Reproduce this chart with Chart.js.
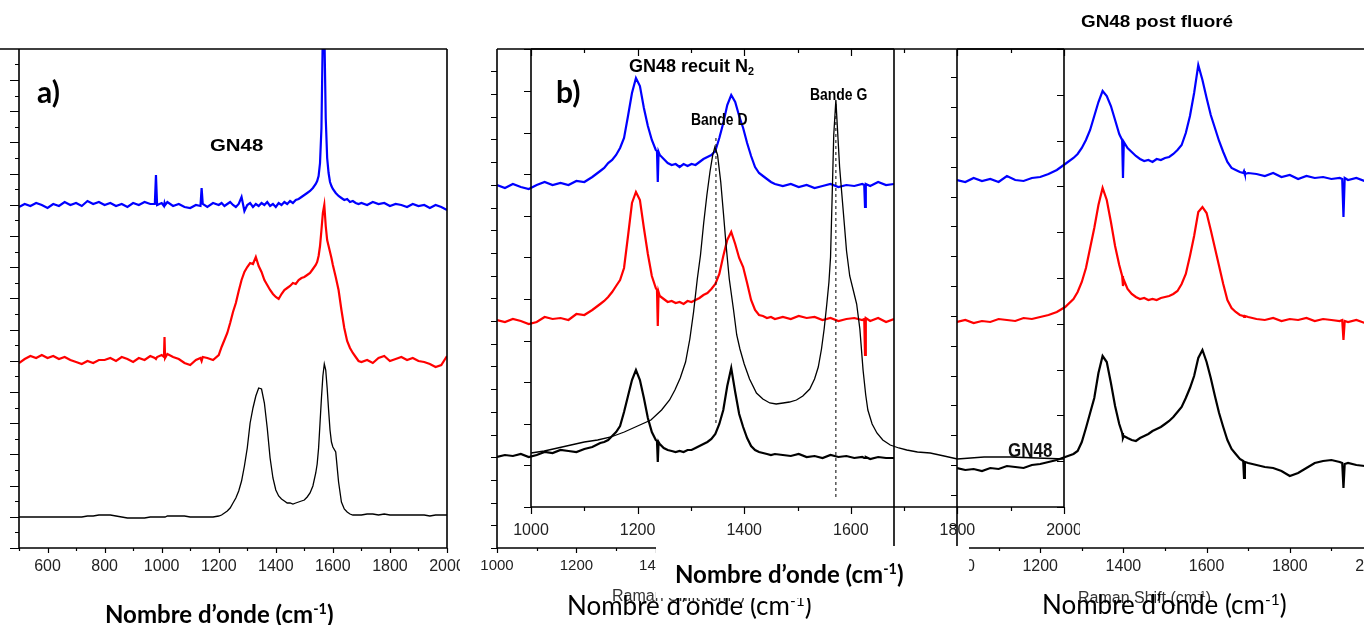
<!DOCTYPE html>
<html>
<head>
<meta charset="utf-8">
<script src="https://cdn.jsdelivr.net/npm/chart.js@4.4.1/dist/chart.umd.min.js"></script>
<style>
html, body { margin: 0; padding: 0; overflow: hidden; }
body { width: 1364px; height: 625px; position: relative; background: #fff; }
canvas { position: absolute; top: 0; }
.t { position: absolute; white-space: nowrap; line-height: 1; color: #000; }
.sup { font-size: 0.6em; vertical-align: 0.6em; }
.sub { font-size: 0.6em; vertical-align: -0.3em; }
</style>
</head>
<body>
<canvas id="chartA" width="460" height="625" style="left:0px"></canvas>
<canvas id="chartB1" width="440" height="625" style="left:470px"></canvas>
<canvas id="chartC" width="470" height="625" style="left:920px"></canvas>
<canvas id="chartB2" width="600" height="625" style="left:480px"></canvas>

<div class="t" style="left:37px;top:73px;font:700 30px Lato">a)</div>
<div class="t" style="left:210px;top:136px;font:700 17px 'Liberation Sans';transform:scaleX(1.2);transform-origin:left">GN48</div>
<div class="t" style="left:556px;top:73px;font:700 30px Lato">b)</div>
<div class="t" style="left:629px;top:56px;font:700 18px 'Liberation Sans'">GN48 recuit N<span class="sub">2</span></div>
<div class="t" style="left:691px;top:110px;font:700 17px 'Liberation Sans';transform:scaleX(0.82);transform-origin:left">Bande D</div>
<div class="t" style="left:810px;top:85px;font:700 17px 'Liberation Sans';transform:scaleX(0.82);transform-origin:left">Bande G</div>
<div class="t" style="left:1081px;top:13px;font:700 16px 'Liberation Sans';transform:scaleX(1.18);transform-origin:left">GN48 post fluoré</div>
<div class="t" style="left:1008px;top:439px;font:700 20px 'Liberation Sans';color:#111;transform:scaleX(0.85);transform-origin:left">GN48</div>

<div class="t" style="left:105px;top:599px;font:700 24px Lato">Nombre d’onde (cm<span class="sup">-1</span>)</div>
<div class="t" style="left:612px;top:586px;font:400 16px 'Liberation Sans';color:#333">Raman Shift (cm<span class="sup">-1</span>)</div>
<div class="t" style="left:567px;top:589px;font:400 26px Lato">Nombre d’onde (cm<span class="sup">-1</span>)</div>
<div class="t" style="left:656px;top:546px;width:313px;height:52px;background:#fff"></div>
<div class="t" style="left:675px;top:559px;font:700 24px Lato">Nombre d’onde (cm<span class="sup">-1</span>)</div>
<div class="t" style="left:1078px;top:588px;font:400 16px 'Liberation Sans';color:#333">Raman Shift (cm<span class="sup">-1</span>)</div>
<div class="t" style="left:1042px;top:588px;font:400 26px Lato">Nombre d’onde (cm<span class="sup">-1</span>)</div>

<script>
// panel a) : GN48, three spectra, shared wavenumber grid
const aWave = [500, 520, 540, 560, 580, 600, 620, 640, 660, 680, 700, 720, 740, 760, 780, 800, 820, 840, 860, 880, 900, 920, 940, 960,
	976, 980, 984, 1000, 1008, 1010, 1012, 1020, 1040, 1060, 1080, 1100, 1120, 1136, 1140, 1144, 1160, 1180, 1200,
	1210, 1220, 1230, 1240, 1250, 1260, 1270, 1280, 1290, 1300, 1310, 1320, 1330, 1340, 1350, 1360, 1370, 1380, 1390, 1400,
	1410, 1420, 1430, 1440, 1450, 1460, 1470, 1480, 1490, 1500, 1510, 1520, 1530, 1540,
	1545, 1550, 1555, 1560, 1565, 1570, 1575, 1580, 1585, 1590, 1595, 1600,
	1610, 1620, 1630, 1640, 1650, 1660, 1670, 1680, 1690, 1700,
	1720, 1740, 1760, 1780, 1800, 1820, 1840, 1860, 1880, 1900, 1920, 1940, 1960, 1980, 2000];
const aBlue = [341, 344, 342, 345, 343, 340, 344, 342, 346, 343, 345, 342, 347, 344, 346, 343, 345, 342, 344, 341, 345, 343, 346, 344,
	344, 373, 343, 345, 342, 345, 343, 346, 342, 344, 341, 340, 343, 342, 360, 344, 341, 345, 343,
	345, 342, 344, 346, 343, 341, 344, 351, 337, 343, 345, 341, 344, 342, 345, 343, 346, 342, 344, 341,
	345, 343, 346, 344, 347, 345, 348, 349, 351, 353, 355, 357, 360, 364,
	367, 372, 385, 420, 520, 520, 430, 390, 375, 366, 362, 359,
	355, 352, 350, 348, 349, 346, 347, 345, 344, 345,
	343, 346, 344, 345, 342, 344, 343, 341, 344, 342, 343, 340, 343, 341, 338];
const aRed = [185, 189, 192, 190, 193, 190, 192, 189, 191, 188, 186, 184, 187, 185, 188, 188, 190, 187, 191, 189, 186, 190, 188, 192,
	190, 189, 191, 193, 191, 211, 190, 194, 191, 189, 185, 183, 188, 190, 187, 191, 190, 188, 193,
	201, 208, 215, 225, 236, 245, 257, 268, 276, 281, 285, 284, 291, 282, 276, 268, 263, 258, 254, 251,
	249, 254, 258, 260, 262, 265, 264, 268, 270, 271, 273, 275, 279, 283,
	286, 292, 302, 318, 335, 343, 322, 308, 302, 296, 290, 283,
	271, 258, 238, 220, 207, 200, 195, 191, 187, 186,
	188, 185, 190, 192, 187, 189, 191, 188, 190, 187, 186, 184, 181, 183, 192];
const aBlack = [31, 31, 31, 31, 31, 31, 31, 31, 31, 31, 31, 31, 32, 32, 33, 33, 33, 32, 31, 30, 30, 30, 30, 31,
	31, 31, 31, 31, 31, 31, 31, 32, 32, 32, 32, 31, 31, 31, 31, 31, 31, 31, 32,
	33, 35, 37, 40, 45, 50, 57, 67, 82, 100, 125, 140, 152, 160, 159, 145, 120, 90, 70, 58,
	52, 49, 47, 45, 45, 44, 45, 46, 47, 48, 51, 55, 62, 75,
	84, 100, 125, 150, 172, 184, 178, 160, 138, 118, 106, 101,
	96, 66, 46, 39, 36, 34, 33, 33, 33, 33,
	34, 34, 33, 34, 33, 33, 33, 33, 33, 33, 33, 32, 33, 33, 33];
const aTickLabels = [600, 800, 1000, 1200, 1400, 1600, 1800, 2000];

// panel b) outer frame : GN48 recuit N2
const b1Wave = [1000, 1020, 1040, 1060, 1080, 1100, 1120, 1140, 1160, 1180, 1200, 1220, 1240,
	1250, 1260, 1270, 1280, 1290, 1300, 1310, 1320, 1330, 1340, 1350, 1360, 1370, 1380, 1390, 1400,
	1403, 1405, 1407, 1410, 1420, 1430, 1440, 1450,
	1460, 1470, 1480, 1490, 1500, 1510, 1520, 1530, 1540, 1550, 1560, 1570, 1580, 1590, 1600, 1610, 1620, 1630, 1640, 1650, 1660, 1670, 1680, 1690, 1700,
	1720, 1740, 1760, 1780, 1800, 1820, 1840, 1860, 1880, 1900, 1920, 1925, 1927, 1929, 1940, 1960, 1980, 2000];
const b1Blue = [363, 360, 364, 361, 359, 363, 366, 363, 365, 363, 367, 366, 371,
	374, 377, 380, 385, 388, 393, 400, 410, 432, 455, 470, 462, 440, 422, 408, 398,
	397, 366, 396, 393, 389, 385, 383, 384,
	381, 384, 382, 384, 383, 386, 389, 391, 393, 397, 410, 425, 443, 453, 446, 432, 420, 405, 392, 381, 375, 372, 369, 366, 364,
	362, 364, 361, 363, 360, 362, 364, 361, 363, 362, 364, 363, 341, 364, 362, 366, 363, 364];
const b1Red = [228, 226, 229, 227, 224, 226, 231, 229, 230, 228, 234, 233, 238,
	241, 244, 247, 251, 256, 262, 268, 280, 312, 345, 356, 348, 320, 294, 272, 260,
	258, 222, 256, 252, 249, 246, 247, 245,
	246, 244, 247, 246, 248, 250, 253, 255, 259, 264, 274, 292, 308, 316, 304, 290, 281, 265, 248, 238, 233, 232, 230, 231, 229,
	231, 229, 232, 230, 231, 228, 230, 227, 229, 230, 228, 229, 193, 230, 227, 230, 226, 229];
const b1Black = [91, 93, 92, 94, 91, 93, 96, 95, 98, 97, 96, 99, 101,
	103, 105, 106, 108, 112, 116, 122, 136, 152, 168, 178, 168, 150, 130, 116, 108,
	107, 86, 106, 104, 100, 98, 97, 96,
	97, 96, 98, 98, 100, 102, 104, 106, 109, 114, 124, 138, 162, 180, 156, 134, 121, 110, 102, 98, 96, 95, 94, 93, 94,
	93, 92, 94, 91, 92, 90, 93, 91, 92, 90, 91, 90, 90, 91, 89, 91, 90, 90];
const b1TickLabels = [1000, 1200, 1400, 1600, 1800, 2000];

// panel b) inner frame : GN48 with band positions
const b2Wave = [1000, 1025, 1050, 1075, 1100, 1125, 1150, 1175, 1200, 1225,
	1245, 1260, 1270, 1280, 1290, 1298, 1305, 1312, 1318, 1324,
	1330, 1336, 1341, 1345, 1350, 1356, 1361, 1366, 1372, 1380,
	1386, 1392, 1400, 1410, 1423, 1435, 1448, 1460, 1473, 1485,
	1498, 1510, 1523, 1532, 1539, 1545, 1550, 1555, 1559, 1562,
	1565, 1568, 1572, 1575, 1579, 1583, 1588, 1592, 1598, 1605,
	1611, 1617, 1623, 1628, 1632, 1640, 1649, 1660, 1674, 1690,
	1705, 1725, 1749, 1775, 1800, 1850, 1900, 1950, 2000];
const b2Black = [54, 56, 59, 62, 65, 67, 70, 75, 81, 87,
	97, 107, 117, 129, 145, 168, 195, 228, 252, 284,
	312, 336, 352, 360, 352, 325, 294, 262, 228, 197,
	172, 158, 143, 128, 114, 108, 104, 103, 104, 105,
	107, 111, 118, 128, 140, 158, 178, 203, 225, 250,
	310, 372, 407, 378, 340, 314, 282, 256, 231, 216,
	203, 178, 137, 112, 97, 83, 74, 67, 62, 59,
	57, 55, 54, 51, 48, 50, 50, 49, 48];
const bandD = [1347, 84, 370];   // position, dashed line from / to
const bandG = [1572, 10, 405];
const b2TickLabels = [1000, 1200, 1400, 1600, 1800, 2000];

// right panel : GN48 post fluoré
const cWave = [1000, 1020, 1040, 1060, 1080, 1100, 1120, 1140, 1160, 1180, 1200, 1220, 1240, 1260, 1280,
	1290, 1300, 1310, 1320, 1330, 1340, 1350, 1360, 1370, 1380, 1390, 1397, 1399, 1401,
	1410, 1420, 1430, 1440, 1450, 1460, 1470, 1480, 1490, 1500, 1510, 1520, 1530, 1540, 1550, 1560, 1570, 1580, 1590, 1600,
	1610, 1620, 1630, 1640, 1650, 1660, 1670, 1680, 1688, 1690, 1692, 1700,
	1720, 1740, 1760, 1780, 1800, 1820, 1840, 1860, 1880, 1900, 1920, 1926, 1929, 1932, 1940, 1960, 1980, 2000];
const cBlue = [368, 366, 370, 367, 369, 366, 372, 368, 367, 370, 371, 374, 378, 384, 390,
	394, 400, 408, 418, 432, 446, 457, 452, 442, 428, 414, 408, 370, 406,
	400, 396, 392, 389, 387, 388, 386, 389, 388, 390, 391, 394, 398, 403, 415, 432, 455, 483, 468, 450,
	433, 420, 407, 396, 386, 380, 378, 376, 375, 377, 374, 375,
	374, 372, 375, 371, 373, 369, 372, 370, 371, 369, 370, 369, 331, 370, 368, 370, 367, 369];
const cRed = [226, 228, 225, 227, 226, 229, 228, 227, 230, 229, 231, 233, 236, 241, 249,
	256, 266, 280, 300, 320, 343, 360, 348, 326, 302, 283, 272, 262, 268,
	259, 254, 251, 249, 250, 248, 249, 248, 250, 251, 252, 254, 257, 264, 274, 292, 312, 336, 341, 335,
	318, 300, 282, 264, 248, 240, 236, 233, 232, 231, 232, 231,
	229, 228, 230, 227, 229, 228, 230, 227, 229, 228, 227, 228, 208, 227, 226, 228, 225, 226];
const cBlack = [80, 78, 79, 77, 80, 79, 82, 81, 80, 83, 84, 86, 88, 91, 94,
	97, 106, 120, 135, 150, 175, 192, 186, 165, 142, 124, 115, 110, 112,
	110, 108, 107, 110, 112, 114, 117, 119, 121, 124, 127, 131, 136, 141, 150, 160, 172, 190, 198, 186,
	170, 152, 135, 121, 108, 99, 94, 89, 87, 70, 86, 85,
	83, 81, 80, 77, 72, 75, 80, 85, 87, 88, 86, 85, 60, 84, 85, 83, 82, 81];
const cTickLabels = [1000, 1200, 1400, 1600, 1800, 2000];


Chart.defaults.font.family = "'Liberation Sans', Arial, sans-serif";

function pts(xs, ys) {
	return xs.map((x, i) => ({x: x, y: ys[i]}));
};
function trace(xs, ys, color, w) {
	return {data: pts(xs, ys), borderColor: color, borderWidth: w, pointRadius: 0, fill: false, tension: 0};
};
function dashed(b) {
	return {data: [{x: b[0], y: b[1]}, {x: b[0], y: b[2]}], borderColor: '#000', borderWidth: 1, borderDash: [3, 3], pointRadius: 0};
};

// axes lines + tick marks (drawn by hand, chart.js has no minor ticks)
const frame = {
	id: 'frame',
	afterDraw(chart, args, o) {
		const c = chart.ctx, a = chart.chartArea;
		c.save();
		c.strokeStyle = '#000';
		c.lineWidth = 1.6;
		c.beginPath();
		if (o.top) { c.moveTo(a.left - (o.topExt || 0), a.top); c.lineTo(a.right, a.top); }
		if (o.left) { c.moveTo(a.left, a.top); c.lineTo(a.left, a.bottom); }
		if (o.bottom) { c.moveTo(a.left, a.bottom); c.lineTo(a.right, a.bottom); }
		if (o.right) { c.moveTo(a.right, a.top); c.lineTo(a.right, a.bottom); }
		c.stroke();
		c.lineWidth = 1.2;
		c.beginPath();
		(o.ticks || []).forEach(t => {
			const sc = (t.side == 'left' || t.side == 'right') ? chart.scales.y : chart.scales.x;
			const d = t.dir == 'in' ? 1 : -1;
			let k = 0;
			for (let v = t.start; v <= sc.max + 0.01; v += t.step) {
				const p = Math.round(sc.getPixelForValue(v)) + 0.5;
				const len = t.lens[k % t.lens.length];
				k++;
				if (t.side == 'left') { c.moveTo(a.left, p); c.lineTo(a.left + d * len, p); }
				if (t.side == 'right') { c.moveTo(a.right, p); c.lineTo(a.right - d * len, p); }
				if (t.side == 'bottom') { c.moveTo(p, a.bottom); c.lineTo(p, a.bottom - d * len); }
				if (t.side == 'top') { c.moveTo(p, a.top); c.lineTo(p, a.top + d * len); }
			}
		});
		c.stroke();
		c.restore();
	}
};

function build(id, o) {
	return new Chart(document.getElementById(id), {
		type: 'line',
		data: {datasets: o.sets},
		options: {
			responsive: false,
			animation: false,
			events: [],
			layout: {autoPadding: false, padding: {top: 49, right: o.padRight, left: 0, bottom: 0}},
			plugins: {legend: {display: false}, tooltip: {enabled: false}, frame: o.frame},
			scales: {
				x: {
					type: 'linear', min: o.xMin, max: o.xMax,
					grid: {display: false, drawTicks: false}, border: {display: false},
					afterBuildTicks: s => { s.ticks = o.labels.map(v => ({value: v})); },
					afterFit: s => { s.height = o.xH; s.paddingLeft = 0; s.paddingRight = 0; },
					ticks: {autoSkip: false, maxRotation: 0, padding: o.labPad, color: '#222', font: {size: o.labSize}, callback: v => String(v)}
				},
				y: {
					type: 'linear', min: 0, max: o.yMax,
					grid: {display: false, drawTicks: false}, border: {display: false},
					ticks: {display: false},
					afterFit: s => { s.width = o.yW; s.paddingTop = 0; s.paddingBottom = 0; }
				}
			}
		},
		plugins: [frame]
	});
};

build('chartA', {
	sets: [trace(aWave, aBlue, '#0000ff', 2.2), trace(aWave, aRed, '#ff0000', 2.2), trace(aWave, aBlack, '#000', 1.3)],
	xMin: 500, xMax: 2000, yMax: 499, yW: 19, xH: 77, padRight: 13,
	labels: aTickLabels, labPad: 9, labSize: 16,
	frame: {top: true, topExt: 19, left: true, bottom: true, right: true,
		ticks: [{side: 'left', start: 0, step: 15.6, lens: [9, 4]}, {side: 'bottom', start: 500, step: 100, lens: [3, 5]}]}
});

build('chartB1', {
	sets: [trace(b1Wave, b1Blue, '#0000ff', 2.2), trace(b1Wave, b1Red, '#ff0000', 2.2), trace(b1Wave, b1Black, '#000', 2.2)],
	xMin: 1000, xMax: 2000, yMax: 499, yW: 27, xH: 77, padRight: 16,
	labels: b1TickLabels, labPad: 9, labSize: 15,
	frame: {top: true, left: true, bottom: true, right: true,
		ticks: [{side: 'left', start: 0, step: 22.7, lens: [6]}, {side: 'bottom', start: 1000, step: 100, lens: [5, 3]}]}
});

build('chartC', {
	sets: [trace(cWave, cBlue, '#0000ff', 2.2), trace(cWave, cRed, '#ff0000', 2.2), trace(cWave, cBlack, '#000', 2.2)],
	xMin: 1000, xMax: 2000, yMax: 499, yW: 37, xH: 77, padRight: 17,
	labels: cTickLabels, labPad: 9, labSize: 16,
	frame: {top: true, left: true, bottom: true, right: false,
		ticks: [{side: 'left', start: 23.5, step: 29.8, lens: [6]}, {side: 'bottom', start: 1000, step: 100, lens: [5, 3]}]}
});

build('chartB2', {
	sets: [trace(b2Wave, b2Black, '#000', 1.3), dashed(bandD), dashed(bandG)],
	xMin: 1000, xMax: 2000, yMax: 458, yW: 51, xH: 118, padRight: 16,
	labels: b2TickLabels, labPad: 14, labSize: 16,
	frame: {top: true, left: true, bottom: true, right: true,
		ticks: [{side: 'left', start: 0, step: 41.6, lens: [7]}, {side: 'right', start: 0, step: 45.8, lens: [7], dir: 'in'},
			{side: 'bottom', start: 1000, step: 100, lens: [7, 4]}, {side: 'top', start: 1000, step: 100, lens: [7, 4], dir: 'in'}]}
});
</script>
</body>
</html>
